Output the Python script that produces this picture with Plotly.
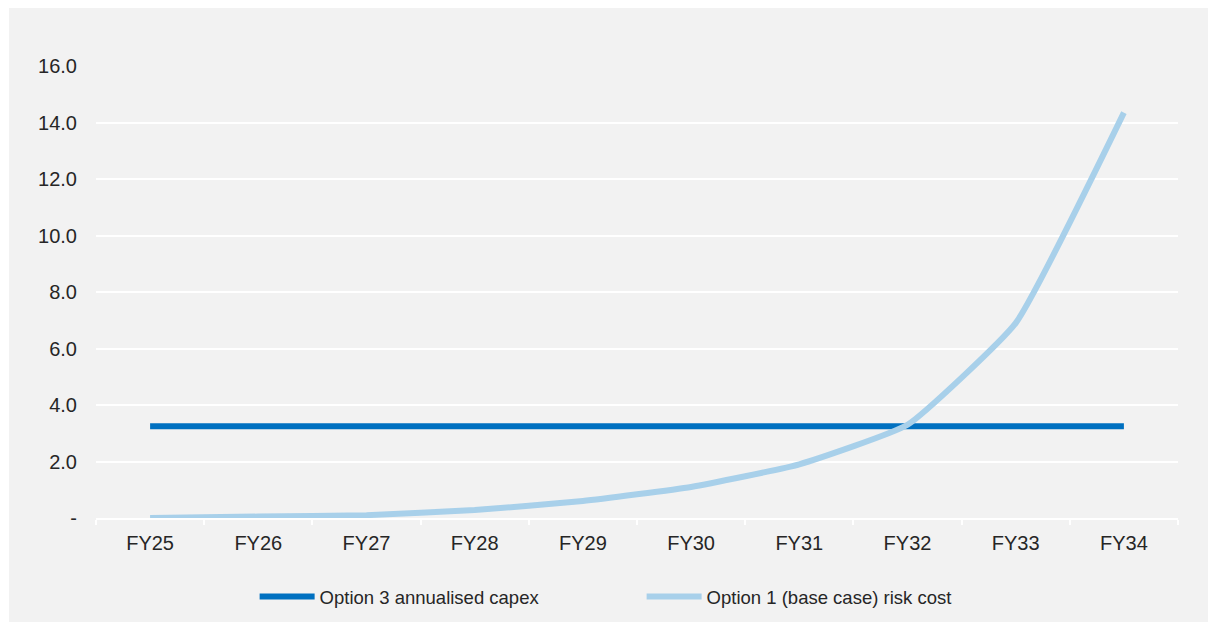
import plotly.graph_objects as go

categories = ["FY25", "FY26", "FY27", "FY28", "FY29", "FY30", "FY31", "FY32", "FY33", "FY34"]
option3_capex = [3.25, 3.25, 3.25, 3.25, 3.25, 3.25, 3.25, 3.25, 3.25, 3.25]
option1_risk = [0.0, 0.05, 0.1, 0.28, 0.6, 1.1, 1.9, 3.3, 6.9, 14.35]
y_tickvals = [0, 2, 4, 6, 8, 10, 12, 14, 16]
y_ticktext = ["-", "2.0", "4.0", "6.0", "8.0", "10.0", "12.0", "14.0", "16.0"]

fig = go.Figure()
fig.add_trace(go.Scatter(
    x=categories, y=option3_capex, mode="lines",
    name="Option 3 annualised capex",
    line=dict(color="#0070c0", width=6),
))
fig.add_trace(go.Scatter(
    x=categories, y=option1_risk, mode="lines",
    name="Option 1 (base case) risk cost",
    line=dict(color="#a8d0ea", width=6, shape="spline", smoothing=0.4),
))

font = "Liberation Sans, Arial, sans-serif"
fig.update_layout(
    width=1218, height=630,
    margin=dict(l=96, r=40, t=66, b=112),
    paper_bgcolor="white",
    plot_bgcolor="rgba(0,0,0,0)",
    font=dict(family=font, size=20, color="#262626"),
    showlegend=True,
    legend=dict(orientation="h", x=0.1466, xanchor="left", y=-0.175, yanchor="middle",
                bgcolor="rgba(0,0,0,0)", font=dict(size=18.5, color="#262626"),
                itemwidth=55, entrywidth=317),
    shapes=[dict(type="rect", xref="paper", yref="paper",
                 x0=-87/1082, x1=1.0 + 30/1082, y0=-104/452, y1=1 + 58/452,
                 fillcolor="#f2f2f2", line=dict(width=0), layer="below")],
)
fig.update_xaxes(
    type="category", range=[-0.5, 9.5],
    showgrid=False, showline=True, linecolor="white", linewidth=2,
    ticks="outside", tickson="boundaries", tickcolor="white", ticklen=5, tickwidth=2,
    ticklabelstandoff=6,
    tickfont=dict(size=20, color="#262626"), zeroline=False,
)
fig.update_yaxes(
    range=[0, 16], tickvals=y_tickvals, ticktext=y_ticktext,
    showgrid=True, gridcolor="white", gridwidth=2, zeroline=False,
    showline=False, ticks="", ticklabelstandoff=18,
    tickfont=dict(size=20, color="#262626"),
)

fig.write_html("out.html")
